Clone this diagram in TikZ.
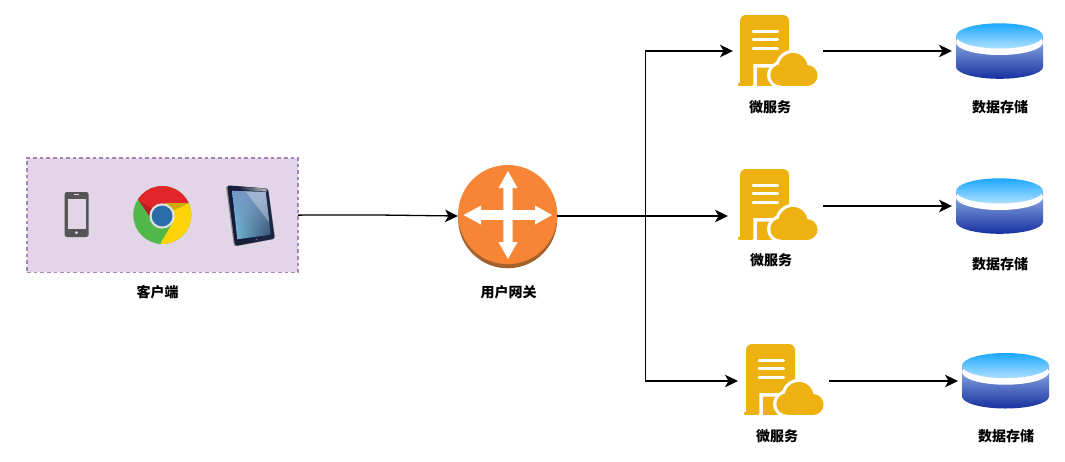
\documentclass[tikz,border=0pt]{standalone}
\usepackage{fontspec}
\newfontfamily\cjk{Noto Sans CJK SC}
\usetikzlibrary{arrows.meta,shadings}
\definecolor{svcgold}{HTML}{EDB112}
\definecolor{gworange}{HTML}{F68536}
\definecolor{gwdark}{HTML}{A3622C}
\definecolor{boxfill}{HTML}{E1D5E7}
\definecolor{boxline}{HTML}{A684B6}
\definecolor{phonegrey}{HTML}{555555}
\definecolor{chromered}{HTML}{E2252B}
\definecolor{chromegreen}{HTML}{4FB848}
\definecolor{chromeyellow}{HTML}{FDD30A}
\definecolor{chromeblue}{HTML}{2A6EA9}
\definecolor{dbtopA}{HTML}{1BA8FF}
\definecolor{dbtopB}{HTML}{B0E0FF}
\definecolor{dbsideA}{HTML}{96B4E8}
\definecolor{dbsideB}{HTML}{1630A0}
\definecolor{tabA}{HTML}{141A38}
\definecolor{tabB}{HTML}{1E2646}
\definecolor{scrUL}{HTML}{6E96C8}
\definecolor{scrUR}{HTML}{829BBE}
\definecolor{scrLL}{HTML}{7DC8E1}
\definecolor{scrLR}{HTML}{284669}
\tikzset{
  label text/.style={font=\cjk\bfseries\fontsize{14}{16}\selectfont,inner sep=0pt,text=black},
  anchor box/.style={inner sep=0pt,outer sep=0pt,draw=none,fill=none},
  link/.style={draw=black,line width=1.3pt,-{Stealth[length=13pt,width=12.5pt,inset=3.5pt]}},
  svcicon/.pic={
    \fill[svcgold,rounded corners=6pt] (0,0) -- (49,0) -- (49,72) -- (0,72) -- cycle;
    \fill[svcgold] (0,60) rectangle (49,70);
    \fill[white] (0,70.2) rectangle (50,75);
    \fill[svcgold,rounded corners=1pt] (-2,67.8) rectangle (13,70.8);
    \foreach \yy in {16,24.7,33.3}{\draw[white,line width=3pt,line cap=round] (13,\yy) -- (37.5,\yy);}
    \fill[white] (13.3,71) -- (13.3,49) -- (33,49) -- (33,52.5) -- (16.8,52.5) -- (16.8,71) -- cycle;
    \fill[svcgold] (16.8,52.5) rectangle (33,70.8);
    \fill[white] (41,60) circle[radius=13.9];
    \fill[white] (67,60.5) circle[radius=13.7];
    \fill[white] (53,52.5) circle[radius=17.7];
    \fill[svcgold] (41,60) circle[radius=10.7];
    \fill[svcgold] (67,60.5) circle[radius=10.5];
    \fill[svcgold] (53,52.5) circle[radius=14.5];
    \fill[svcgold] (41,56) rectangle (67,71);
    \fill[white] (28,71.3) rectangle (80,76);
  },
  dbicon/.pic={
    \shade[top color=dbsideA,bottom color=dbsideB]
      (0,13) -- (87,13) -- (87,43.5) .. controls (87,50.1) and (67.5,55.5) .. (43.5,55.5)
      .. controls (19.5,55.5) and (0,50.1) .. (0,43.5) -- cycle;
    \fill[white] (43.5,19) ellipse[x radius=43.5,y radius=12.7];
    \shade[top color=dbtopA,bottom color=dbtopB]
      (43.5,12.6) ellipse[x radius=43.5,y radius=12.6];
  },
}
\begin{document}
\begin{tikzpicture}[x=1pt,y=-1pt]
\useasboundingbox (0,0) rectangle (1065,461);

% client box
\node[anchor box,rectangle,draw=boxline,fill=boxfill,line width=1.4pt,
      dash pattern=on 3.6pt off 3pt,minimum width=271pt,minimum height=114.5pt] (client) at (162.6,215.1) {};

% phone
\fill[phonegrey,rounded corners=2.5pt] (64.5,192) rectangle (88.7,237);
\fill[boxfill] (67.7,199) rectangle (85.7,229);
\fill[boxfill] (76.4,232.7) circle[radius=1.6];
\draw[boxfill,line width=.7pt] (74,194.8) -- (79,194.8);

% chrome
\begin{scope}[shift={(162.3,215)}]
  \begin{scope}
    \clip (0,0) circle[radius=29];
    \fill[chromegreen] (-30,-30) rectangle (30,30);
    \fill[chromered] (-12.3,1.7) -- (-23.3,-14.3) -- (-35,-30) -- (35,-30) -- (35,-11.7) -- (2.7,-11.7) -- cycle;
    \fill[chromered!80!black] (-12.3,1.7) -- (-23.3,-14.3) -- (-10,-6) -- cycle;
    \fill[chromeyellow] (35,-11.7) -- (2.7,-11.7) -- (11,6.7) -- (-1.3,27.3) -- (-3,35) -- (35,35) -- cycle;
    \fill[chromeyellow!80!black] (26,-11.7) -- (4,-11.7) -- (12,-5) -- cycle;
  \end{scope}
  \fill[black!12] (-.2,1) circle[radius=12.7];
  \fill[chromeblue] (-.2,1) circle[radius=10.4];
\end{scope}

% tablet
\fill[black!45,rounded corners=2.5pt] (225.8,185.6) -- (268.2,188.5) -- (275.2,239) -- (234,246.6) -- cycle;
\shade[rounded corners=2.5pt,left color=tabA,right color=tabB]
  (227.2,185.3) -- (268,188.7) -- (274.7,238.6) -- (235,246) -- cycle;
\shade[left color=tabB,right color=black!25] (240,186.5) -- (266,188.7) -- (267,191.5) -- (240,190) -- cycle;
\begin{scope}
  \clip (232,190.7) -- (265.7,192) -- (270.7,234.7) -- (237.3,239.3) -- cycle;
  \shade[upper left=scrUL,upper right=scrUR,lower left=scrLL,lower right=scrLR]
    (230,189) rectangle (272,241);
  \fill[white,opacity=.3] (243,188) -- (268,188) -- (272,226) -- cycle;
\end{scope}
\fill[black!55] (256.5,239.5) circle[radius=.9];

% gateway
\node[anchor box,rectangle,minimum width=99.4pt,minimum height=103pt] (gw) at (507.7,216) {};
\fill[gwdark] (507.7,218.7) circle[radius=49.6];
\fill[gworange] (507.7,214.6) circle[radius=49.6];
\fill[white] (508,171) -- (517.5,188) -- (512.7,188) -- (512.7,210.2) -- (535,210.2) -- (535,205.5) -- (552,215) -- (535,224.5) -- (535,219.8)
  -- (512.7,219.8) -- (512.7,242) -- (517.5,242) -- (508,259) -- (498.5,242) -- (503.3,242) -- (503.3,219.8) -- (481,219.8)
  -- (481,224.5) -- (463.5,215) -- (481,205.5) -- (481,210.2) -- (503.3,210.2) -- (503.3,188) -- (498.5,188) -- cycle;

% services
\pic at (740,15) {svcicon};
\pic at (740,169) {svcicon};
\pic at (746,344) {svcicon};
\node[anchor box,rectangle,minimum width=90pt,minimum height=74pt] (svcA) at (778,51) {};
\node[anchor box,rectangle,minimum width=95pt,minimum height=74pt] (svcB) at (775.5,216) {};
\node[anchor box,rectangle,minimum width=91pt,minimum height=74pt] (svcC) at (783.5,381) {};

% stores
\pic at (956,23.3) {dbicon};
\pic at (956,178.3) {dbicon};
\pic at (962,353) {dbicon};
\node[anchor box,rectangle,minimum width=91pt,minimum height=56pt] (dbA) at (997.5,51) {};
\node[anchor box,rectangle,minimum width=91pt,minimum height=56pt] (dbB) at (997.5,206) {};
\node[anchor box,rectangle,minimum width=91pt,minimum height=56pt] (dbC) at (1003.5,381) {};

% connectors
\coordinate (bendc) at (378,215);
\coordinate (trunkA) at (645.5,51);
\coordinate (trunkC) at (645.5,381);
\coordinate (trunkM) at (645.5,216);
\draw[link] (client.east) -- (bendc) -- (gw.west);
\draw[link] (gw.east) -- (trunkM) -- (trunkA) -- (svcA.west);
\draw[link] (gw.east) -- (svcB.west);
\draw[link] (gw.east) -- (trunkM) -- (trunkC) -- (svcC.west);
\draw[link] (svcA.east) -- (dbA.west);
\draw[link] ([yshift=10pt]svcB.east) -- (dbB.west);
\draw[link] (svcC.east) -- (dbC.west);

% labels
\node[label text] (lclient) at (157.5,292) {客户端};
\node[label text] (lgw) at (508.5,292) {用户网关};
\node[label text] (lsvcA) at (770,107) {微服务};
\node[label text] (lsvcB) at (771,260) {微服务};
\node[label text] (lsvcC) at (777,436) {微服务};
\node[label text] (ldbA) at (1000,107) {数据存储};
\node[label text] (ldbB) at (1000,264) {数据存储};
\node[label text] (ldbC) at (1006,436) {数据存储};
\end{tikzpicture}
\end{document}
